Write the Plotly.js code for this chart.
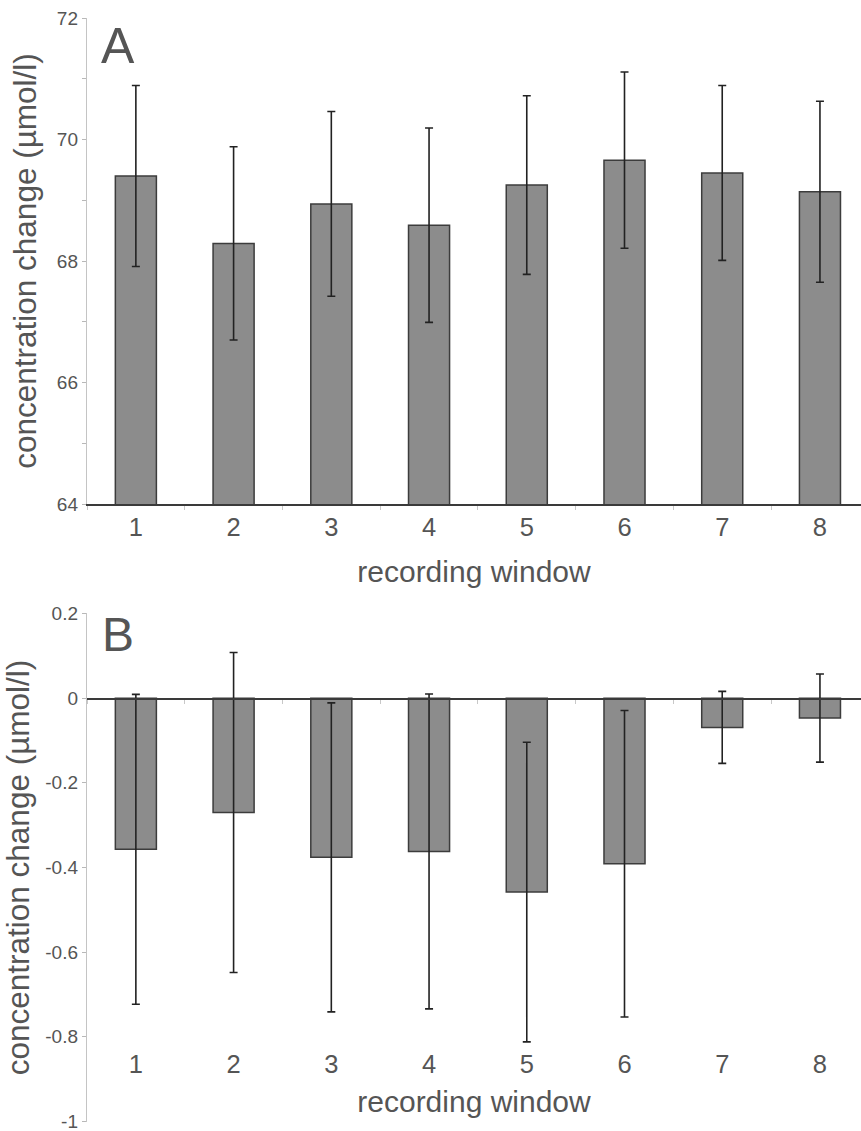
<!DOCTYPE html>
<html>
<head>
<meta charset="utf-8">
<script src="https://cdn.plot.ly/plotly-3.0.1.min.js"></script>
<style>html,body{margin:0;padding:0;background:#fff;}#chart{width:861px;height:1131px;}</style>
</head>
<body>
<div id="chart"></div>
<script>
// ---- data ----
const windows = ['1','2','3','4','5','6','7','8'];
const meanA = [69.40, 68.29, 68.94, 68.59, 69.25, 69.66, 69.45, 69.14];
const errA  = [1.49, 1.59, 1.52, 1.60, 1.47, 1.45, 1.44, 1.49];
const meanB = [-0.357, -0.270, -0.376, -0.362, -0.458, -0.391, -0.069, -0.047];
const errB  = [0.366, 0.378, 0.365, 0.372, 0.354, 0.362, 0.085, 0.104];
const yTicksA = [64, 66, 68, 70, 72];
const yTicksB = [0.2, 0, -0.2, -0.4, -0.6, -0.8, -1];
const yTickTextB = ['0.2', '0', '-0.2', '-0.4', '-0.6', '-0.8', '-1'];
const panelLabels = ['A', 'B'];
const yTitle = 'concentration change (µmol/l)';
const xTitle = 'recording window';

const FONT = '"Liberation Sans", Arial, sans-serif';
const TXT = '#555555';
const barStyle = {
  type: 'bar', width: 0.42,
  marker: {color: '#8c8c8c', line: {color: '#3c3c3c', width: 1.5}},
  hoverinfo: 'skip'
};
const errStyle = {type: 'data', visible: true, color: '#222222', thickness: 1.6, width: 4};

const traces = [
  Object.assign({}, barStyle, {x: windows, y: meanA, xaxis: 'x', yaxis: 'y',
    error_y: Object.assign({array: errA}, errStyle)}),
  Object.assign({}, barStyle, {x: windows, y: meanB, xaxis: 'x2', yaxis: 'y2',
    error_y: Object.assign({array: errB}, errStyle)}),
  {type: 'scatter', mode: 'markers', x: windows, y: meanB, xaxis: 'x3', yaxis: 'y2',
   marker: {opacity: 0}, hoverinfo: 'skip', showlegend: false}
];

const xDom = [87/861, 1];
const xRange = [-0.5, 7.42];
const yDomA = [1 - 504/1131, 1 - 18/1131];
const yDomB = [1 - 1121.7/1131, 1 - 613.3/1131];
const yRangeB = [-1.0, 0.2];
const zeroPos = yDomB[0] + (0 - yRangeB[0]) / (yRangeB[1] - yRangeB[0]) * (yDomB[1] - yDomB[0]);

const yCommon = {
  showline: true, linecolor: '#c4c4c4', linewidth: 1.2,
  showgrid: false, zeroline: false,
  ticks: 'outside', ticklen: 4, tickcolor: '#b8b8b8', tickwidth: 1,
  tickfont: {family: FONT, size: 19, color: TXT},
  ticklabeloverflow: 'allow',
  title: {text: yTitle, font: {family: FONT, size: 31.5, color: TXT}, standoff: 10},
  fixedrange: true
};

const layout = {
  width: 861, height: 1131,
  margin: {l: 0, r: 0, t: 0, b: 0},
  paper_bgcolor: '#fff', plot_bgcolor: 'rgba(0,0,0,0)',
  showlegend: false,
  font: {family: FONT, color: TXT},
  xaxis: {
    type: 'category', domain: xDom, anchor: 'y', range: xRange,
    showline: true, linecolor: '#3a3a3a', linewidth: 1.5,
    ticks: 'outside', tickson: 'boundaries', ticklen: 4, tickcolor: '#c8c8c8',
    showgrid: false, zeroline: false,
    tickfont: {family: FONT, size: 25.5, color: TXT},
    title: {text: xTitle, font: {family: FONT, size: 30, color: TXT}, standoff: 21}
  },
  yaxis: Object.assign({}, yCommon, {
    domain: yDomA, anchor: 'x', range: [64, 72],
    tickvals: yTicksA, ticktext: yTicksA.map(String),
    minor: {dtick: 1, tick0: 64, ticks: 'outside', ticklen: 4, tickcolor: '#b8b8b8', showgrid: false}
  }),
  xaxis2: {
    type: 'category', domain: xDom, anchor: 'free', position: zeroPos, range: xRange,
    showline: true, linecolor: '#3a3a3a', linewidth: 1.5,
    ticks: 'outside', tickson: 'boundaries', ticklen: 4, tickcolor: '#c8c8c8',
    showgrid: false, zeroline: false, showticklabels: false
  },
  xaxis3: {
    type: 'category', domain: xDom, anchor: 'free', overlaying: 'x2',
    position: 1 - 1037/1131, range: xRange,
    showline: false, ticks: 'outside', ticklen: 4, tickcolor: 'rgba(0,0,0,0)',
    showgrid: false, zeroline: false,
    tickfont: {family: FONT, size: 25.5, color: TXT},
    title: {text: xTitle, font: {family: FONT, size: 30, color: TXT}, standoff: 14}
  },
  yaxis2: Object.assign({}, yCommon, {
    domain: yDomB, anchor: 'x2', range: [yRangeB[0] - 0.0005, yRangeB[1] + 0.0005],
    tickvals: yTicksB, ticktext: yTickTextB
  }),
  annotations: [
    {text: panelLabels[0], xref: 'paper', yref: 'paper', x: 118/861, y: 1 - 46/1131,
     xanchor: 'center', yanchor: 'middle', showarrow: false,
     font: {family: FONT, size: 50, color: TXT}},
    {text: panelLabels[1], xref: 'paper', yref: 'paper', x: 118/861, y: 1 - 635/1131,
     xanchor: 'center', yanchor: 'middle', showarrow: false,
     font: {family: FONT, size: 48, color: TXT}}
  ]
};

Plotly.newPlot('chart', traces, layout, {staticPlot: true, displayModeBar: false});
</script>
</body>
</html>
